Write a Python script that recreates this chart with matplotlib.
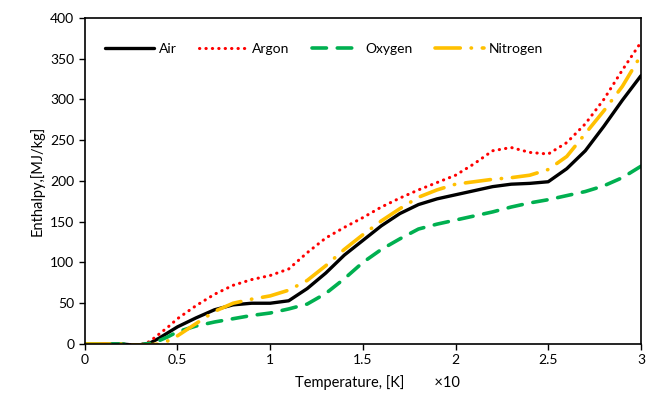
import matplotlib
matplotlib.use("Agg")
import matplotlib.pyplot as plt

plt.rcParams['font.family'] = ['Lato', 'DejaVu Sans']

# temperature (x10 K)
temp = [0, 0.1, 0.2, 0.25, 0.3, 0.35, 0.4, 0.45, 0.5, 0.6, 0.7, 0.8, 0.9, 1.0,
        1.1, 1.2, 1.3, 1.4, 1.5, 1.6, 1.7, 1.8, 1.9, 2.0, 2.1, 2.2, 2.3, 2.4,
        2.5, 2.6, 2.7, 2.8, 2.9, 3.0]

# enthalpy, MJ/kg
air = [0, 0, 0, -1, -1, 1, 7, 14, 21, 32, 42, 48, 50, 50,
       53, 68, 87, 109, 127, 145, 160, 171, 178, 183, 188, 193, 196, 197,
       199, 215, 237, 267, 299, 329]
argon = [0, 0, 0, -1, -1, 3, 12, 21, 31, 47, 61, 72, 79, 84,
         92, 112, 130, 143, 155, 168, 179, 189, 198, 207, 221, 237, 241, 235,
         233, 247, 270, 300, 336, 370]
oxygen = [0, 0, 0, -1, -1, 1, 4, 9, 15, 22, 27, 31, 35, 38,
          43, 49, 62, 80, 100, 116, 129, 141, 147, 152, 157, 162, 168, 173,
          177, 182, 187, 194, 204, 218]
nitrogen = [0, 0, 0, -1, -1, -1, 0, 4, 10, 25, 40, 50, 55, 59,
            66, 78, 96, 116, 134, 151, 166, 180, 189, 196, 199, 202, 204, 207,
            214, 230, 258, 286, 316, 354]

xticks = [0, 0.5, 1, 1.5, 2, 2.5, 3]
xtick_labels = ['0', '0.5', '1', '1.5', '2', '2.5', '3']
yticks = list(range(0, 401, 50))

fig = plt.figure(figsize=(6.52, 3.97), dpi=100)
ax = fig.add_axes([0.130, 0.1335, 0.853, 0.8215])

ax.plot(temp, air, color='black', lw=2.4, label='Air', solid_capstyle='round')
ax.plot(temp, argon, color='#FF0000', lw=2.2, linestyle=(0, (0.1, 2.0)),
        dash_capstyle='round', label='Argon')
ax.plot(temp, oxygen, color='#00B050', lw=2.6, linestyle=(0, (4, 3)),
        dash_capstyle='round', label='Oxygen')
ax.plot(temp, nitrogen, color='#FFC000', lw=2.6, linestyle=(0, (7, 3, 0.1, 3)),
        dash_capstyle='round', label='Nitrogen')

ax.set_xlim(0, 3)
ax.set_ylim(0, 400)
ax.set_xticks(xticks)
ax.set_xticklabels(xtick_labels)
ax.set_yticks(yticks)
ax.tick_params(direction='out', length=4, width=1, labelsize=10, colors='black')
for s in ax.spines.values():
    s.set_linewidth(1.2)
    s.set_color('black')

ax.set_xlabel('Temperature, [K]        \u00d710', fontsize=10.5, labelpad=6)
ax.xaxis.label.set_x(0.5 + 15 / 556)
ax.set_ylabel('Enthalpy,[MJ/kg]', fontsize=10.5, labelpad=4)

ax.legend(loc='upper left', bbox_to_anchor=(0.027, 0.94), ncol=4, frameon=False,
          fontsize=10, handlelength=3.5, handletextpad=0.35, columnspacing=1.6,
          borderaxespad=0)

fig.savefig('out.png', dpi=100)
